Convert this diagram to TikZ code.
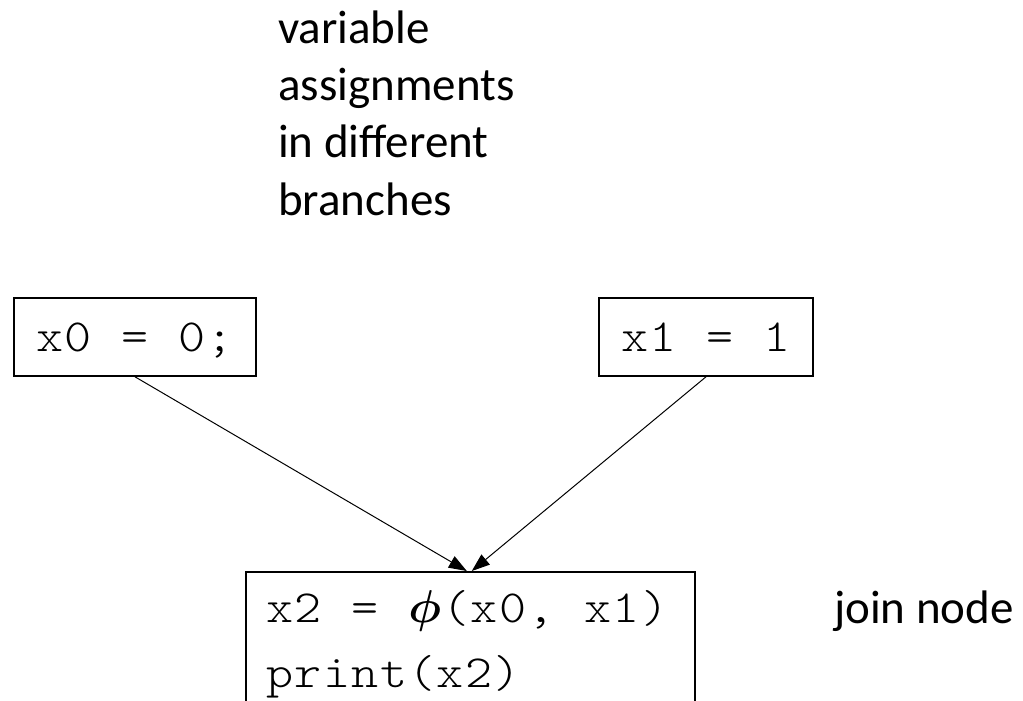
\RequirePackage{fix-cm}
\documentclass[tikz,border=0pt]{standalone}
\usepackage{amsmath}
\usepackage{graphicx}
\usepackage{fontspec}
\setmainfont{Carlito}
\newfontfamily\codefont{lmmonolt10-regular.otf}
\usetikzlibrary{arrows.meta}
\makeatletter
\newcommand\monostr[1]{\mono@str#1\@nil}
\def\mono@str#1{\ifx#1\@nil\else\makebox[28.4pt][c]{\scalebox{1.12}[1]{#1}}\expandafter\mono@str\fi}
\makeatother
\begin{document}
\begin{tikzpicture}[x=1pt,y=-1pt,
  codebox/.style={draw,line width=1.6pt,inner xsep=20pt,inner ysep=0pt,
    font=\codefont\fontsize{46}{65}\selectfont},
  lbl/.style={inner sep=0pt,font=\fontsize{47}{57.3}\selectfont,align=left},
  edge/.style={line width=1pt,-{Triangle[length=18pt,width=13pt]}}]
\useasboundingbox (0,0) rectangle (1023,701);
\node[codebox,text height=53pt,text depth=25pt,minimum width=242pt] (b0) at (135,337) {\monostr{x0~=~0;}};
\node[codebox,text height=53pt,text depth=25pt,minimum width=214pt] (b1) at (706,337) {\monostr{x1~=~1}};
\node[codebox,anchor=north west,text width=409pt,align=left] (join) at (245,571)
  {\rule{0pt}{51pt}\monostr{x2~=~}\makebox[34pt][c]{$\boldsymbol{\phi}$}\monostr{(x0,~x1)}\\
   \monostr{print(x2)}\rule[-40pt]{0pt}{40pt}};
\draw[edge] (b0.south) -- ([xshift=-3.5pt]join.north);
\draw[edge] (b1.south) -- ([xshift=1.5pt]join.north);
\node[lbl,anchor=north west] (title) at (278,3) {\rule{0pt}{40pt}variable\\assignments\\in different\\branches};
\node[lbl,anchor=base west] (jn) at (834,623) {join node};
\end{tikzpicture}
\end{document}
